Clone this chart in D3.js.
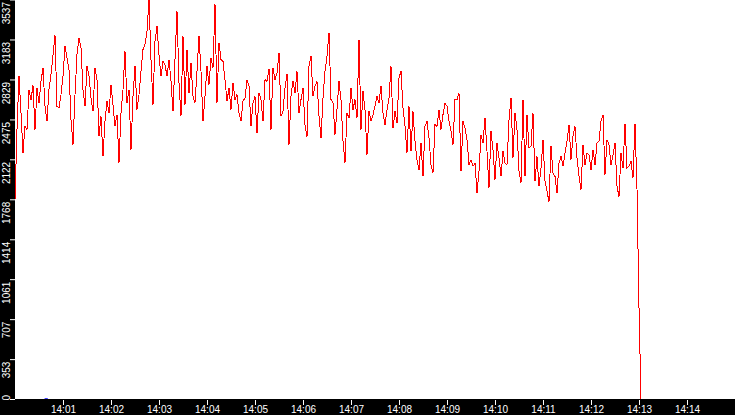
<!DOCTYPE html>
<html>
<head>
<meta charset="utf-8">
<script src="https://cdn.jsdelivr.net/npm/d3@7"></script>
<style>
  body { margin: 0; background: #fff; }
  svg { display: block; }
  .axis text { fill: #fff; font-family: "Liberation Sans", Arial, sans-serif; font-size: 10px; }
  .axis line { stroke: #fff; }
</style>
</head>
<body>
<svg id="chart" width="735" height="415"></svg>
<script>
// one sample every 2.5 s starting at 14:00:00
const startLabel = "14:00";
const stepSeconds = 2.5;

const load = [
    1764, 2385, 2863, 2532, 2178, 2414, 2385, 2739, 2651, 2775, 2385, 2754, 2621, 2813, 2931, 2591, 2458, 2739, 2872, 3041,
    3218, 2591, 2577, 2695, 2857, 3123, 3020, 2916, 2473, 2252, 2695, 3049, 3197, 3108, 2739, 2591, 2946, 2857, 2665, 2547,
    2931, 2828, 2326, 2503, 2148, 2458, 2636, 2532, 2784, 2606, 2414, 2518, 2089, 2532, 2739, 3079, 2621, 2739, 2207, 2680,
    2952, 2562, 2695, 2902, 3094, 3138, 3256, 3537, 3005, 2606, 3168, 3301, 3049, 2857, 2990, 2961, 2857, 3005, 2813,
    2547, 3005, 3434, 2798, 2503, 3212, 2606, 3094, 2710, 2976, 2680, 2621, 2902, 3212, 2902, 2458, 2680, 2946, 2784, 3020,
    2931, 3493, 2621, 3153, 3005, 2990, 2828, 2636, 2754, 2562, 2798, 2651, 2695, 2532, 2458, 2636, 2665, 2828, 2769, 2414,
    2621, 2680, 2355, 2710, 2651, 2458, 2828, 2813, 2925, 2385, 2931, 2828, 2887, 3064, 2503, 2547, 2754, 2881, 2252, 2680,
    2819, 2710, 2902, 2532, 2651, 2754, 2429, 2320, 2946, 3035, 2680, 2769, 2813, 2503, 2311, 2665, 2902, 3035, 3242,
    2651, 2621, 2340, 2562, 2813, 2651, 2281, 2089, 2532, 2488, 2754, 2562, 2651, 2488, 3182, 2385, 2724, 2562, 2163, 2547,
    2458, 2518, 2591, 2680, 2621, 2769, 2532, 2429, 2562, 2665, 2946, 2399, 2547, 2444, 2843, 2902, 2577, 2414, 2178, 2591,
    2192, 2547, 2281, 2119, 2030, 2266, 1971, 2414, 2458, 2311, 2074, 2000, 2429, 2414, 2562, 2385, 2518, 2621, 2591, 2458,
    2370, 2252, 2651, 2651, 2710, 2015, 2458, 2399, 2296, 2074, 2119, 2060, 2089, 1823, 2015, 2340, 2266, 2488, 2192,
    1867, 2370, 2207, 1941, 2266, 2134, 1971, 2192, 2089, 2074, 2473, 2665, 2134, 2532, 2385, 2015, 1912, 2651, 1971, 2518,
    2222, 2237, 2532, 1927, 2148, 1882, 2045, 2296, 1927, 1838, 1749, 2237, 2000, 1971, 1823, 2089, 2148, 2060, 2178, 2281,
    2429, 2119, 2326, 2414, 2134, 1971, 1853, 2252, 2074, 2178, 2163, 2030, 2207, 2074, 2266, 2281, 2458, 2518, 1986, 2296,
    2252, 2074, 2163, 2266, 1882, 1793, 2178, 2045, 2438, 2045, 2060, 2104, 1956, 2438, 1860, 810, 0
];

// short second series, only visible as a blip on the floor
const otherTimes = ["14:00:37", "14:00:41"];
const otherValues = [0, 0];

const yTickValues = [0, 353, 707, 1061, 1414, 1768, 2122, 2475, 2829, 3183, 3537];
const xTickLabels = ["14:01", "14:02", "14:03", "14:04", "14:05", "14:06", "14:07",
    "14:08", "14:09", "14:10", "14:11", "14:12", "14:13", "14:14"];
const xDomainLabels = ["14:00", "14:15"];

const width = 735, height = 415;
const left = 15, bottom = 399;

const parseHM = d3.timeParse("%H:%M");
const parseHMS = d3.timeParse("%H:%M:%S");
const start = parseHM(startLabel);

const series = load.map(function(v, i){
    return {t: new Date(+start + i * stepSeconds * 1000), v: v};
});
const other = otherValues.map(function(v, i){
    return {t: parseHMS(otherTimes[i]), v: v};
});

const svg = d3.select("#chart");

const x = d3.scaleTime()
    .domain(xDomainLabels.map(parseHM))
    .range([left, width]);
const y = d3.scaleLinear()
    .domain([0, 3537])
    .range([bottom, -0.5]);

svg.append("rect").attr("x", 0).attr("y", 0).attr("width", width).attr("height", height).attr("fill", "#fff");

const line = d3.line()
    .x(function(d){ return x(d.t); })
    .y(function(d){ return y(d.v); });

svg.append("path")
    .datum(other)
    .attr("d", line)
    .attr("fill", "none")
    .attr("stroke", "#0000ff")
    .attr("stroke-width", 1.5);

svg.append("path")
    .datum(series)
    .attr("d", line)
    .attr("fill", "none")
    .attr("stroke", "#ff0000")
    .attr("stroke-width", 1)
    .attr("shape-rendering", "crispEdges");

// black frames for the axes
svg.append("rect").attr("x", 0).attr("y", 0).attr("width", left).attr("height", height).attr("fill", "#000");
svg.append("rect").attr("x", 0).attr("y", bottom).attr("width", width).attr("height", height - bottom).attr("fill", "#000");

const yAxis = svg.append("g")
    .attr("class", "axis")
    .attr("transform", "translate(" + left + ",0)")
    .call(d3.axisLeft(y).tickValues(yTickValues).tickSize(5).tickFormat(d3.format("d")));
yAxis.select(".domain").remove();
yAxis.selectAll("text")
    .attr("transform", "rotate(-90)")
    .attr("dy", 0)
    .attr("y", -5)
    .attr("x", function(d){ return d === 0 ? -1 : -2; })
    .attr("text-anchor", function(d){ return d === 0 ? "start" : "end"; });

const xAxis = svg.append("g")
    .attr("class", "axis")
    .attr("transform", "translate(0," + (bottom + 1) + ")")
    .call(d3.axisBottom(x).tickValues(xTickLabels.map(parseHM)).tickSize(5).tickFormat(d3.timeFormat("%H:%M")));
xAxis.select(".domain").remove();
xAxis.selectAll("text").attr("y", 6);
</script>
</body>
</html>
